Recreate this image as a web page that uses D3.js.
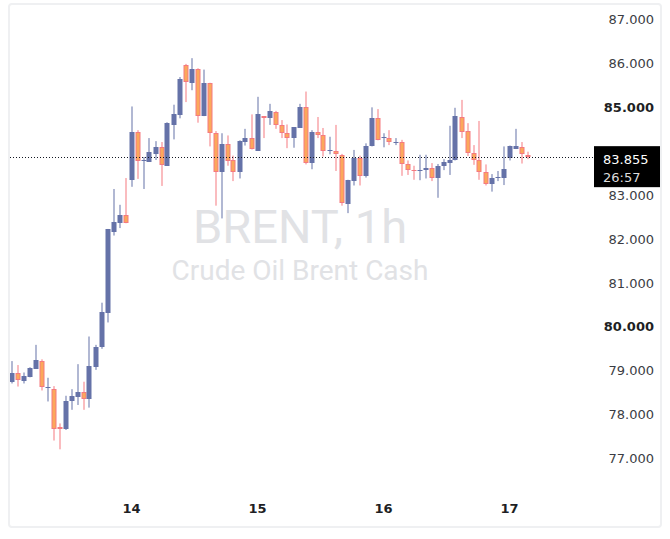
<!DOCTYPE html>
<html>
<head>
<meta charset="utf-8">
<script src="https://cdn.jsdelivr.net/npm/d3@7"></script>
<style>
  body { margin: 0; background: #fff; }
</style>
</head>
<body>
<div id="chart"></div>
<script>
// hourly candles (index 0 = first visible bar)
const open  = [78.74,78.93,78.76,78.85,79.04,79.21,78.61,78.57,77.71,77.66,78.31,78.40,78.51,78.35,79.08,79.53,80.31,82.16,82.36,82.53,
               83.34,84.42,83.77,83.75,83.93,84.08,83.66,84.59,84.82,85.96,85.55,85.86,84.79,85.54,84.40,83.51,84.15,83.78,83.51,84.21,
               84.29,84.00,84.79,84.74,84.88,84.58,84.40,84.29,84.53,84.99,83.72,84.42,84.35,84.00,84.00,83.91,82.79,83.31,83.83,83.43,
               84.10,84.74,84.30,84.29,84.18,84.20,83.69,83.57,83.555,83.56,83.60,83.37,83.66,83.73,83.78,84.76,84.45,83.94,83.78,83.51,
               83.24,83.39,83.39,83.83,84.04,84.08,83.90];
const high  = [79.21,79.12,78.95,79.07,79.58,79.25,78.83,78.64,77.79,78.42,78.57,79.14,78.74,79.77,79.58,80.54,82.22,83.13,82.77,83.38,
               85.01,84.47,83.86,84.29,84.22,84.20,84.65,85.05,85.68,85.98,86.11,85.88,85.85,85.55,84.45,84.40,84.35,83.89,84.24,84.50,
               84.83,85.23,84.79,85.07,84.91,84.70,84.60,84.54,85.07,85.35,84.47,84.77,84.52,84.32,84.59,83.93,83.34,84.02,83.89,84.17,
               84.99,84.95,84.40,84.47,84.29,84.25,83.78,83.66,83.91,83.91,83.72,83.70,83.81,84.57,84.98,85.16,84.63,84.13,84.68,83.69,
               83.47,83.54,84.10,84.12,84.50,84.20,83.98];
const low   = [78.70,78.63,78.70,78.84,79.03,78.54,78.29,77.40,77.20,77.64,78.10,78.21,78.10,78.15,79.01,79.49,80.09,82.07,82.24,82.35,
               83.18,83.36,83.13,83.75,83.79,83.20,83.66,84.26,84.74,85.11,85.38,84.64,84.79,84.10,82.75,82.46,83.66,83.31,83.37,84.12,
               84.03,84.00,84.29,84.59,84.50,84.29,84.06,84.07,84.53,83.69,83.58,84.29,83.87,83.92,83.54,82.75,82.58,83.21,83.21,83.39,
               84.10,84.24,84.08,84.13,84.13,83.43,83.45,83.34,83.33,83.37,83.31,82.93,83.56,83.45,83.78,84.29,83.88,83.68,83.34,83.21,
               83.07,83.31,83.22,83.78,84.04,83.71,83.81];
const close = [78.93,78.77,78.87,79.05,79.24,78.61,78.62,77.67,77.66,78.30,78.42,78.51,78.35,79.10,79.53,80.33,82.21,82.38,82.54,82.35,
               84.43,83.76,83.78,83.97,84.09,83.67,84.63,84.84,85.64,85.56,85.86,84.79,85.55,84.40,83.51,84.15,83.76,83.51,84.22,84.29,
               84.04,84.84,84.74,84.91,84.58,84.40,84.29,84.54,84.99,83.72,84.42,84.35,84.00,84.01,83.92,82.80,83.34,83.83,83.43,84.10,
               84.74,84.24,84.31,84.20,84.19,83.69,83.56,83.56,83.565,83.61,83.37,83.65,83.75,83.79,84.79,84.42,83.94,83.79,83.51,83.24,
               83.37,83.40,83.59,84.10,84.10,83.92,83.855];

const dayLabels = ["14", "15", "16", "17"];
const dayIndex  = [20, 41, 62, 83];
const priceTicks = [77, 78, 79, 80, 81, 82, 83, 84, 85, 86, 87];
const boldTicks  = [80, 85];
const lastPrice = 83.855;
const countdown = "26:57";

const W = 670, H = 539;
const upColor = "#6572a8", downFill = "#fba85b", downLine = "#f57a80";

const svg = d3.select("#chart").append("svg")
    .attr("width", W)
    .attr("height", H);

// frame
svg.append("rect")
    .attr("x", 9).attr("y", 4)
    .attr("width", 652).attr("height", 523)
    .attr("rx", 3)
    .attr("fill", "#fff")
    .attr("stroke", "#eff0f2")
    .attr("stroke-width", 2);

const x = d3.scaleLinear().domain([0, 86]).range([11.5, 527.5]);
const y = d3.scaleLinear().domain([77, 87]).range([458.1, 19.1]);

// watermark
svg.append("text")
    .attr("x", 300).attr("y", 243)
    .attr("text-anchor", "middle")
    .attr("font-family", "Roboto, sans-serif")
    .attr("font-size", 47)
    .attr("fill", "#e1e2e5")
    .text("BRENT, 1h");
svg.append("text")
    .attr("x", 300).attr("y", 280)
    .attr("text-anchor", "middle")
    .attr("font-family", "Roboto, sans-serif")
    .attr("font-size", 28)
    .attr("fill", "#e1e2e5")
    .text("Crude Oil Brent Cash");

svg.append("clipPath").attr("id", "pane")
    .append("rect").attr("x", 10).attr("y", 5).attr("width", 582).attr("height", 521);

const pane = svg.append("g").attr("clip-path", "url(#pane)");

const candles = d3.range(open.length).map(i => ({
    i: i, o: open[i], h: high[i], l: low[i], c: close[i], up: close[i] >= open[i]
}));

const bw = 5;
const g = pane.selectAll("g.candle")
    .data(candles)
    .enter().append("g")
    .attr("class", "candle");

// wick
g.append("rect")
    .attr("x", d => Math.round(x(d.i)) - 0.5)
    .attr("y", d => y(d.h))
    .attr("width", 1)
    .attr("height", d => Math.max(1, y(d.l) - y(d.h)))
    .attr("fill", d => d.up ? upColor : downLine);

// body (outer = border colour)
g.append("rect")
    .attr("x", d => Math.round(x(d.i)) - bw / 2)
    .attr("y", d => Math.round(y(Math.max(d.o, d.c))))
    .attr("width", bw)
    .attr("height", d => Math.max(1, Math.round(y(Math.min(d.o, d.c))) - Math.round(y(Math.max(d.o, d.c)))))
    .attr("fill", d => d.up ? upColor : downLine);

// orange fill inside down bodies
g.filter(d => !d.up)
  .filter(d => Math.round(y(d.c)) - Math.round(y(d.o)) > 2)
  .append("rect")
    .attr("x", d => Math.round(x(d.i)) - bw / 2 + 1)
    .attr("y", d => Math.round(y(d.o)) + 1)
    .attr("width", bw - 2)
    .attr("height", d => Math.round(y(d.c)) - Math.round(y(d.o)) - 2)
    .attr("fill", downFill);

// price axis labels
svg.selectAll("text.ptick")
    .data(priceTicks)
    .enter().append("text")
    .attr("class", "ptick")
    .attr("x", 654)
    .attr("y", d => y(d) + 5)
    .attr("text-anchor", "end")
    .attr("font-family", "Verdana, 'DejaVu Sans', sans-serif")
    .attr("font-size", 13)
    .attr("font-weight", d => boldTicks.includes(d) ? "bold" : "normal")
    .attr("fill", d => boldTicks.includes(d) ? "#1e1f24" : "#3b3d44")
    .text(d => d3.format(".3f")(d));

// time axis labels
svg.selectAll("text.dtick")
    .data(dayLabels)
    .enter().append("text")
    .attr("class", "dtick")
    .attr("x", (d, k) => x(dayIndex[k]))
    .attr("y", 513)
    .attr("text-anchor", "middle")
    .attr("font-family", "Verdana, 'DejaVu Sans', sans-serif")
    .attr("font-size", 13)
    .attr("font-weight", "bold")
    .attr("fill", "#1e1f24")
    .text(d => d);

// last price dotted line
svg.append("line")
    .attr("x1", 10).attr("x2", 594)
    .attr("y1", Math.round(y(lastPrice)) + 0.5)
    .attr("y2", Math.round(y(lastPrice)) + 0.5)
    .attr("stroke", "#131722")
    .attr("stroke-width", 1)
    .attr("stroke-dasharray", "1 2");

// last price label (covers the 84.000 tick, as in the original)
svg.append("rect")
    .attr("x", 594).attr("y", y(lastPrice) - 11)
    .attr("width", 66).attr("height", 41)
    .attr("fill", "#000");
svg.append("text")
    .attr("x", 603).attr("y", y(lastPrice) + 7)
    .attr("font-family", "Verdana, 'DejaVu Sans', sans-serif")
    .attr("font-size", 13)
    .attr("fill", "#fff")
    .text(d3.format(".3f")(lastPrice));
svg.append("text")
    .attr("x", 603).attr("y", y(lastPrice) + 25)
    .attr("font-family", "Verdana, 'DejaVu Sans', sans-serif")
    .attr("font-size", 13)
    .attr("fill", "#ddd")
    .text(countdown);
</script>
</body>
</html>
